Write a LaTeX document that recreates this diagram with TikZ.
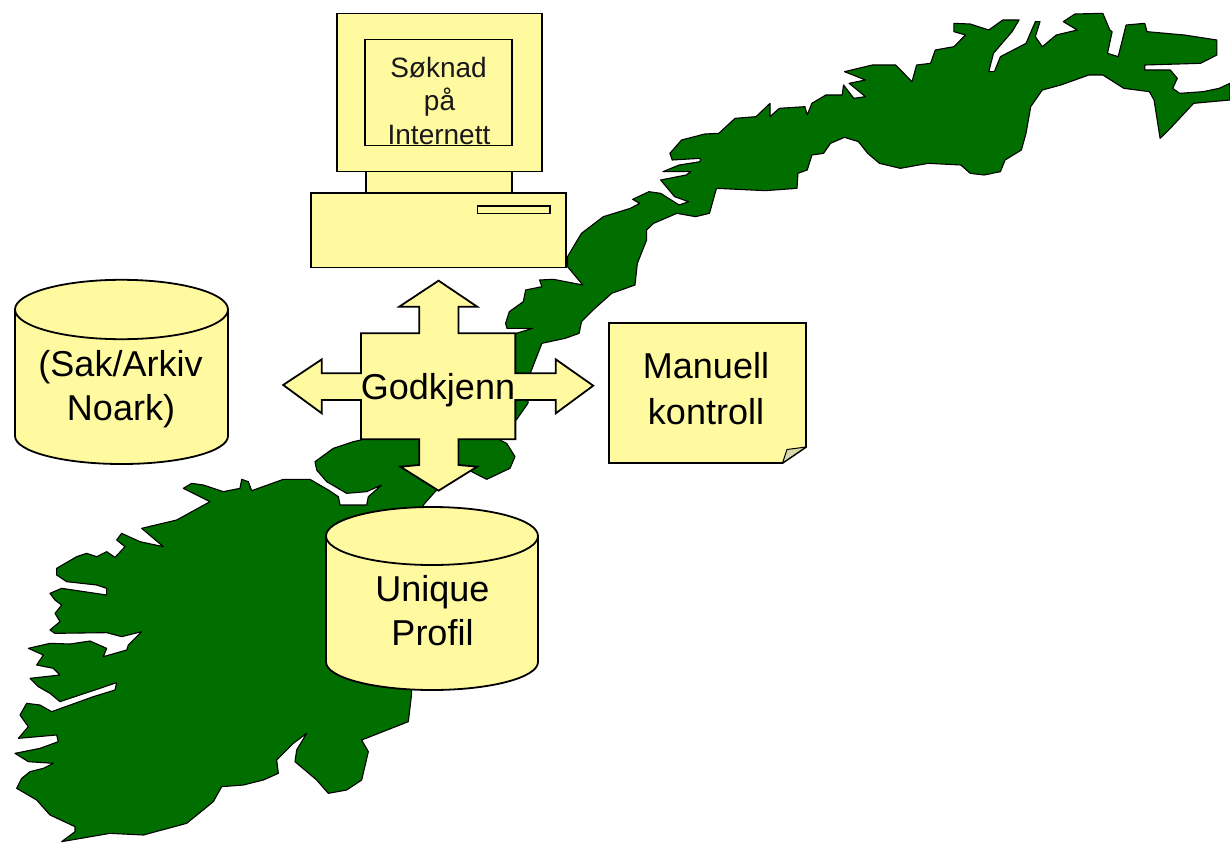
\documentclass[tikz,border=0pt]{standalone}
\usepackage{fontspec}
\setmainfont{Liberation Sans}
\definecolor{mapgreen}{HTML}{006F00}
\definecolor{paleyellow}{HTML}{FFFAA0}
\definecolor{foldgrey}{HTML}{D9D8A8}
\tikzset{
  land/.style={fill=mapgreen,draw=black,line width=1.1pt,line join=round},
  shapebox/.style={fill=paleyellow,draw=black,line width=1.8pt,line join=miter},
  biglabel/.style={font=\fontsize{36}{44}\selectfont,anchor=base,inner sep=0pt,text=black},
  smalllabel/.style={font=\fontsize{28}{34}\selectfont,anchor=base,inner sep=0pt,text=black!90}
}
\begin{document}
\begin{tikzpicture}[x=1pt,y=-1pt]
\useasboundingbox (0,0) rectangle (1230,843);
\fill[white] (0,0) rectangle (1230,843);
% northern part of the map
\begin{scope}[shift={(500,0)},xscale=0.4655,yscale=0.33333]
\draw[land] (30,1120)--(30,1005)--(35,1000)--(70,985)--(15,985)--(12,970)--(20,935)--(50,905)--(55,870)--(90,860)--(85,840)--(115,838)--(178,855)--(145,800)--(145,770)--(175,700)--(222,650)--(280,625)--(300,610)--(285,598)--(320,575)--(345,580)--(385,615)--(405,605)--(375,590)--(345,540)--(400,525)--(410,515)--(350,515)--(385,495)--(430,485)--(430,475)--(370,480)--(365,460)--(390,420)--(440,402)--(470,400)--(505,355)--(550,350)--(580,310)--(580,350)--(600,325)--(655,320)--(660,345)--(670,310)--(700,285)--(735,285)--(738,255)--(760,295)--(785,290)--(750,250)--(785,240)--(740,215)--(800,195)--(850,195)--(885,245)--(895,195)--(925,190)--(935,150)--(975,140)--(1000,105)--(975,95)--(975,70)--(1010,72)--(1050,90)--(1080,60)--(1115,60)--(1100,95)--(1060,160)--(1050,215)--(1062,215)--(1075,170)--(1130,130)--(1150,65)--(1160,65)--(1150,110)--(1165,140)--(1195,105)--(1240,90)--(1210,65)--(1235,42)--(1295,40)--(1310,90)--(1315,95)--(1305,160)--(1328,170)--(1345,75)--(1385,70)--(1390,95)--(1470,105)--(1540,120)--(1540,165)--(1505,190)--(1385,195)--(1385,210)--(1440,210)--(1455,235)--(1445,265)--(1460,280)--(1510,275)--(1545,265)--(1568,250)--(1568,300)--(1490,310)--(1440,385)--(1418,415)--(1405,300)--(1395,275)--(1340,265)--(1295,225)--(1265,225)--(1205,255)--(1165,270)--(1140,320)--(1130,400)--(1120,450)--(1085,480)--(1075,515)--(1040,525)--(1010,520)--(990,495)--(920,490)--(860,505)--(815,490)--(790,460)--(770,425)--(740,412)--(710,430)--(695,460)--(670,465)--(660,510)--(640,520)--(638,565)--(570,572)--(465,565)--(450,640)--(420,650)--(380,640)--(330,670)--(315,690)--(315,720)--(295,790)--(290,855)--(240,880)--(200,930)--(175,965)--(170,1000)--(140,1015)--(90,1030)--(65,1120)--(60,1210)--(35,1260)--(0,1260)--(0,1120)--cycle;
\end{scope}
% southern part of the map
\begin{scope}[shift={(0,440)},xscale=0.33333,yscale=0.33333]
\draw[land] (550,145)--(575,130)--(610,135)--(670,155)--(720,145)--(725,118)--(745,125)--(755,152)--(850,118)--(930,118)--(985,150)--(1015,170)--(1020,195)--(1100,195)--(1105,170)--(1145,135)--(1100,155)--(1040,160)--(980,125)--(950,90)--(945,65)--(1000,25)--(1060,5)--(1083,0)--(1083,-10)--(1500,-10)--(1500,0)--(1520,10)--(1545,50)--(1530,85)--(1460,118)--(1415,95)--(1380,80)--(1310,150)--(1270,195)--(1270,300)--(1235,700)--(1235,760)--(1225,845)--(1085,900)--(1105,935)--(1085,1020)--(1040,1050)--(985,1060)--(950,1020)--(885,965)--(890,930)--(920,880)--(880,910)--(830,960)--(835,1000)--(790,1020)--(730,1035)--(665,1040)--(640,1085)--(560,1150)--(430,1185)--(330,1180)--(185,1205)--(225,1175)--(225,1160)--(150,1125)--(110,1080)--(50,1045)--(65,1015)--(90,995)--(130,985)--(160,970)--(85,965)--(45,940)--(120,925)--(175,905)--(170,885)--(55,895)--(85,860)--(60,825)--(80,790)--(120,795)--(155,815)--(280,770)--(345,750)--(350,728)--(180,785)--(150,760)--(115,740)--(90,715)--(180,705)--(160,685)--(110,675)--(130,645)--(85,625)--(150,610)--(210,612)--(270,603)--(320,625)--(310,650)--(380,630)--(385,615)--(425,575)--(365,590)--(320,578)--(165,580)--(150,570)--(180,545)--(165,520)--(185,495)--(165,480)--(150,460)--(185,445)--(320,465)--(320,445)--(290,435)--(200,425)--(170,405)--(170,385)--(230,350)--(260,340)--(290,350)--(320,335)--(345,352)--(375,320)--(350,300)--(365,280)--(420,305)--(490,320)--(425,265)--(530,240)--(630,185)--(580,160)--cycle;
\end{scope}
% computer
\draw[shapebox] (366,171) rectangle (512,193);
\draw[shapebox] (337,13.5) rectangle (542,171.5);
\draw[shapebox] (365,39.5) rectangle (512,145.5);
\draw[shapebox] (311,193) rectangle (566,267.5);
\draw[shapebox] (477.5,206) rectangle (550,213.5);
\node[smalllabel] (soknad) at (438.5,77.5) {Søknad};
\node[smalllabel] (paa) at (439.5,110) {på};
\node[smalllabel] (internett) at (439,144) {Internett};
% left cylinder
\draw[shapebox] (15,309.5) -- (15,436) arc[start angle=180,end angle=0,x radius=106.5,y radius=28] -- (228,309.5) -- cycle;
\draw[shapebox] (121.5,309.5) ellipse [x radius=106.5,y radius=29.7];
\node[biglabel] (sak) at (120.5,376) {(Sak/Arkiv};
\node[biglabel] (noark) at (121,420) {Noark)};
% bottom cylinder
\draw[shapebox] (326,536) -- (326,662) arc[start angle=180,end angle=0,x radius=106,y radius=28] -- (538,536) -- cycle;
\draw[shapebox] (432,536) ellipse [x radius=106,y radius=29];
\node[biglabel] (unique) at (432.5,601) {Unique};
\node[biglabel] (profil) at (432.5,645.5) {Profil};
% four-way arrow
\begin{scope}[shift={(270,270)},xscale=0.35714,yscale=0.33333]
\draw[shapebox] (472,32)--(580,110)--(528,110)--(528,190)--(687,190)--(687,310)--(800,310)--(800,268)--(905,347)--(800,430)--(800,390)--(687,390)--(687,508)--(528,508)--(528,585)--(580,590)--(472,662)--(365,590)--(418,585)--(418,508)--(255,508)--(255,390)--(145,390)--(145,430)--(37,345)--(145,268)--(145,310)--(255,310)--(255,190)--(418,190)--(418,110)--(362,110)--cycle;
\end{scope}
\node[biglabel] (godkjenn) at (438,399.5) {Godkjenn};
% note
\draw[shapebox] (609,323) -- (806,323) -- (806,447) -- (782.5,463) -- (609,463) -- cycle;
\draw[fill=foldgrey,draw=black,line width=1pt,line join=round] (806,447) -- (787,449.5) -- (782.5,463) -- cycle;
\node[biglabel] (manuell) at (706,378) {Manuell};
\node[biglabel] (kontroll) at (706,424) {kontroll};
\end{tikzpicture}
\end{document}
